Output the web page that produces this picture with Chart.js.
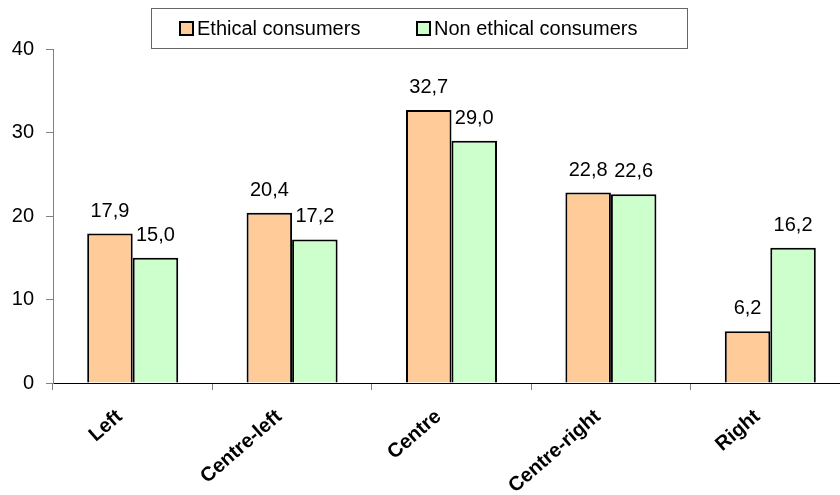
<!DOCTYPE html>
<html>
<head>
<meta charset="utf-8">
<script src="https://cdn.jsdelivr.net/npm/chart.js@4/dist/chart.umd.min.js"></script>
<style>
  html, body { margin: 0; padding: 0; background: #fff; overflow: hidden; }
  #wrap { width: 852px; height: 495px; }
</style>
</head>
<body>
<div id="wrap"><canvas id="chart" width="852" height="495"></canvas></div>
<script>
const categories = ["Left", "Centre-left", "Centre", "Centre-right", "Right"];
const ethical = [17.9, 20.4, 32.7, 22.8, 6.2];
const nonEthical = [15.0, 17.2, 29.0, 22.6, 16.2];
const seriesNames = ["Ethical consumers", "Non ethical consumers"];
const yTicks = [0, 10, 20, 30, 40];

const FONT = "'Liberation Sans', Arial, sans-serif";

// value labels above each bar, comma decimals
const valueLabels = {
  id: "valueLabels",
  afterDatasetsDraw(chart) {
    const ctx = chart.ctx;
    ctx.save();
    ctx.font = "20px " + FONT;
    ctx.fillStyle = "#000";
    ctx.textAlign = "center";
    ctx.textBaseline = "alphabetic";
    chart.data.datasets.forEach((ds, i) => {
      chart.getDatasetMeta(i).data.forEach((bar, j) => {
        const txt = ds.data[j].toFixed(1).replace(".", ",");
        ctx.fillText(txt, bar.x, bar.y - 17);
      });
    });
    ctx.restore();
  },
};

// boxed legend at the top
const boxLegend = {
  id: "boxLegend",
  afterDraw(chart) {
    const ctx = chart.ctx;
    ctx.save();
    ctx.strokeStyle = "#666";
    ctx.lineWidth = 1;
    ctx.strokeRect(151.5, 8.5, 536, 40);
    ctx.font = "20px " + FONT;
    ctx.textBaseline = "middle";
    const xs = [180, 417];
    chart.data.datasets.forEach((ds, i) => {
      ctx.fillStyle = ds.backgroundColor;
      ctx.fillRect(xs[i], 22, 13, 13);
      ctx.strokeStyle = "#000";
      ctx.lineWidth = 2;
      ctx.strokeRect(xs[i], 22, 13, 13);
      ctx.fillStyle = "#000";
      ctx.fillText(ds.label, xs[i] + 17, 29);
    });
    ctx.restore();
  },
};

new Chart(document.getElementById("chart"), {
  type: "bar",
  data: {
    labels: categories,
    datasets: [
      {
        label: seriesNames[0],
        data: ethical,
        backgroundColor: "#ffcc99",
        borderColor: "#000",
        borderWidth: 2,
      },
      {
        label: seriesNames[1],
        data: nonEthical,
        backgroundColor: "#ccffcc",
        borderColor: "#000",
        borderWidth: 2,
      },
    ],
  },
  options: {
    responsive: false,
    animation: false,
    layout: { padding: { top: 49, right: 2, left: 0, bottom: 0 } },
    datasets: { bar: { categoryPercentage: 0.571, barPercentage: 1 } },
    plugins: {
      legend: { display: false },
      tooltip: { enabled: false },
    },
    scales: {
      x: {
        grid: {
          offset: true,
          drawOnChartArea: false,
          color: "#808080",
          tickLength: 7,
        },
        border: { color: "#000", width: 1 },
        ticks: {
          autoSkip: false,
          minRotation: 41,
          maxRotation: 41,
          color: "#000",
          padding: 15,
          labelOffset: -13,
          font: { family: FONT, size: 20, weight: "bold" },
        },
        afterFit(s) {
          s.height = 112;
        },
      },
      y: {
        min: 0,
        max: 40,
        afterBuildTicks(s) {
          s.ticks = yTicks.map((v) => ({ value: v }));
        },
        grid: {
          drawOnChartArea: false,
          color: "#808080",
          tickLength: 7,
        },
        border: { color: "#808080", width: 1 },
        ticks: {
          color: "#000",
          padding: 12,
          font: { family: FONT, size: 20 },
        },
        afterFit(s) {
          s.width = 53;
        },
      },
    },
  },
  plugins: [valueLabels, boxLegend],
});
</script>
</body>
</html>
